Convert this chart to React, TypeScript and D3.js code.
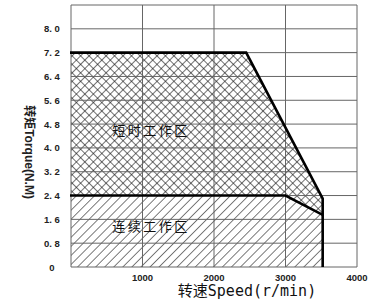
import { useEffect, useRef } from "react";
import { line, scaleLinear, select } from "d3";

const speedTicks = [1000, 2000, 3000, 4000];
const torqueTicks = [0, 0.8, 1.6, 2.4, 3.2, 4.0, 4.8, 5.6, 6.4, 7.2, 8.0];
const gridTorque = [0, 0.8, 1.6, 2.4, 3.2, 4.0, 4.8, 5.6, 6.4, 7.2, 8.0, 8.8];

// peak (short-time) torque curve
const peakSpeed = [0, 2450, 3520, 3520];
const peakTorque = [7.2, 7.2, 2.3, 0];
// continuous torque curve
const contSpeed = [0, 3000, 3520, 3520];
const contTorque = [2.4, 2.4, 1.75, 0];

const zoneLabels = ["短时工作区", "连续工作区"];
const zoneSpeed = [1120, 1120];
const zoneTorque = [4.45, 1.2];

export default function App() {
  const ref = useRef<SVGSVGElement>(null);

  useEffect(() => {
    const width = 376;
    const height = 302;
    const margin = { top: 5, right: 19, bottom: 35, left: 71 };

    const x = scaleLinear().domain([0, 4000]).range([margin.left, width - margin.right]);
    const y = scaleLinear().domain([0, 8.8]).range([height - margin.bottom, margin.top]);

    const svg = select(ref.current);
    svg.selectAll("*").remove();

    const defs = svg.append("defs");
    const cross = defs.append("pattern")
      .attr("id", "cross")
      .attr("patternUnits", "userSpaceOnUse")
      .attr("width", 6).attr("height", 6)
      .attr("patternTransform", "rotate(45)");
    cross.append("line").attr("x1", 0).attr("y1", 0).attr("x2", 6).attr("y2", 0)
      .attr("stroke", "#111").attr("stroke-width", 1.2);
    cross.append("line").attr("x1", 0).attr("y1", 0).attr("x2", 0).attr("y2", 6)
      .attr("stroke", "#111").attr("stroke-width", 1.2);

    const diag = defs.append("pattern")
      .attr("id", "diag")
      .attr("patternUnits", "userSpaceOnUse")
      .attr("width", 6.4).attr("height", 6.4)
      .attr("patternTransform", "rotate(45)");
    diag.append("rect").attr("width", 6.4).attr("height", 6.4).attr("fill", "#fff");
    diag.append("line").attr("x1", 0).attr("y1", 0).attr("x2", 0).attr("y2", 6.4)
      .attr("stroke", "#111").attr("stroke-width", 1.1);

    svg.append("rect").attr("width", width).attr("height", height).attr("fill", "#fff");

    const pts = (s: number[], t: number[]) => s.map((d, i) => [x(d), y(t[i])] as [number, number]);
    const peakPts = pts(peakSpeed, peakTorque);
    const contPts = pts(contSpeed, contTorque);
    const origin: [number, number] = [x(0), y(0)];

    svg.append("polygon")
      .attr("points", [...peakPts, origin].map(p => p.join(",")).join(" "))
      .attr("fill", "url(#cross)");
    svg.append("polygon")
      .attr("points", [...contPts, origin].map(p => p.join(",")).join(" "))
      .attr("fill", "url(#diag)");

    // grid
    svg.append("g").selectAll("line")
      .data(gridTorque)
      .enter().append("line")
      .attr("x1", x(0)).attr("x2", x(4000))
      .attr("y1", d => y(d)).attr("y2", d => y(d))
      .attr("stroke", "#666").attr("stroke-width", 1);
    svg.append("g").selectAll("line")
      .data([0, ...speedTicks])
      .enter().append("line")
      .attr("x1", d => x(d)).attr("x2", d => x(d))
      .attr("y1", y(0)).attr("y2", y(8.8))
      .attr("stroke", "#666").attr("stroke-width", 1);

    const path = line();
    svg.append("path")
      .attr("d", path([[x(0) - 1, y(peakTorque[0])], ...peakPts]))
      .attr("fill", "none").attr("stroke", "#000").attr("stroke-width", 2.6);
    svg.append("path")
      .attr("d", path([[x(0) - 1, y(contTorque[0])], ...contPts.slice(0, 3)]))
      .attr("fill", "none").attr("stroke", "#000").attr("stroke-width", 2.6);

    // tick labels
    svg.append("g").selectAll("text")
      .data(torqueTicks)
      .enter().append("text")
      .attr("x", 52).attr("y", d => y(d) + 3.5)
      .attr("text-anchor", "middle")
      .attr("font-family", "Liberation Sans, Arial, sans-serif")
      .attr("font-weight", "bold").attr("font-size", 9.5)
      .attr("fill", "#222")
      .text(d => d === 0 ? "0" : d.toFixed(1).replace(".", ". "));
    svg.append("g").selectAll("text")
      .data(speedTicks)
      .enter().append("text")
      .attr("x", d => x(d)).attr("y", height - 21)
      .attr("text-anchor", "middle")
      .attr("font-family", "Liberation Sans, Arial, sans-serif")
      .attr("font-weight", "bold").attr("font-size", 9.5)
      .attr("fill", "#222")
      .text(d => String(d));

    // axis titles
    svg.append("text")
      .attr("x", 247).attr("y", height - 6)
      .attr("text-anchor", "middle")
      .attr("font-family", "DejaVu Sans Mono, Noto Sans CJK SC, monospace")
      .attr("font-size", 15).attr("fill", "#111")
      .text("转速Speed(r/min)");
    svg.append("text")
      .attr("transform", `translate(25,${152}) rotate(90)`)
      .attr("text-anchor", "middle")
      .attr("font-family", "Liberation Sans, Noto Sans CJK SC, sans-serif")
      .attr("font-weight", "bold").attr("font-size", 12).attr("fill", "#222")
      .text("转矩Torque(N.M)");

    // zone labels
    svg.append("g").selectAll("text")
      .data(zoneLabels)
      .enter().append("text")
      .attr("x", (_, i) => x(zoneSpeed[i])).attr("y", (_, i) => y(zoneTorque[i]))
      .attr("text-anchor", "middle")
      .attr("font-family", "Noto Sans CJK SC, sans-serif")
      .attr("font-size", 13).attr("letter-spacing", 2.5)
      .attr("fill", "#111")
      .text(d => d);
  }, []);

  return (
    <svg ref={ref} width={376} height={302}
      style={{ position: "absolute", left: 0, top: 0, display: "block" }} />
  );
}
